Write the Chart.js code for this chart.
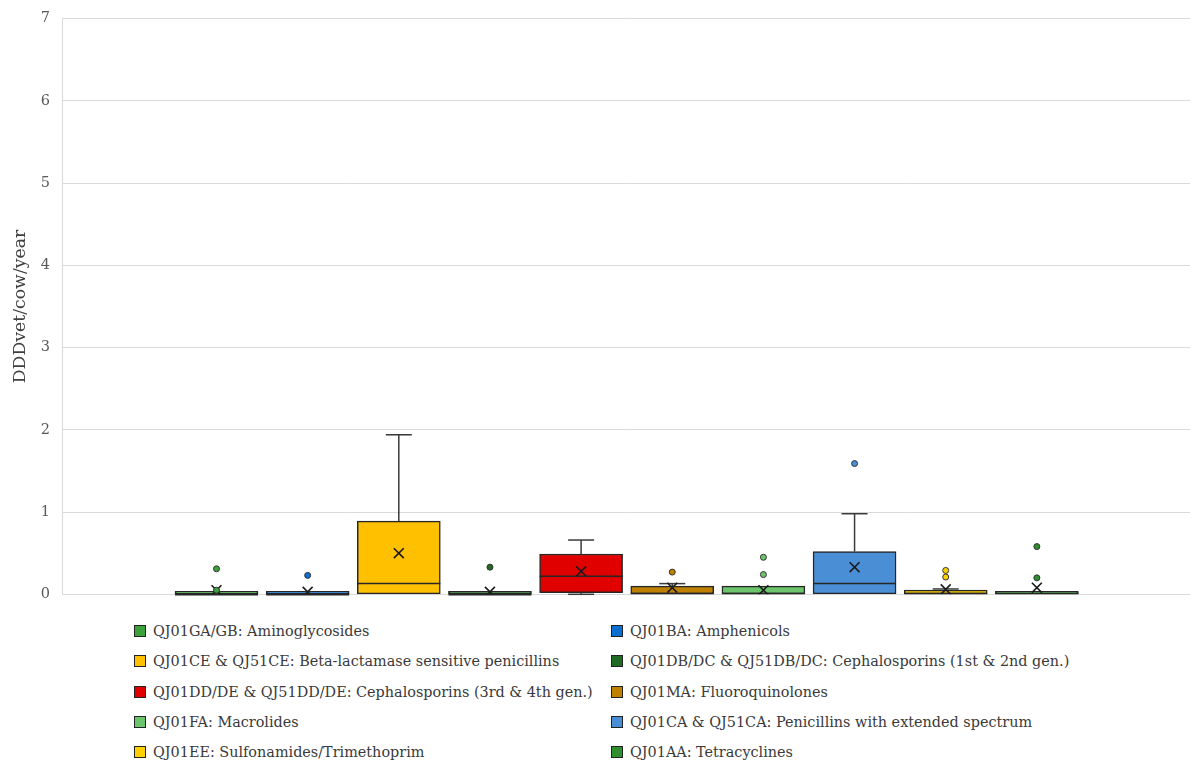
<!DOCTYPE html>
<html>
<head>
<meta charset="utf-8">
<title>DDDvet/cow/year by antimicrobial class</title>
<script src="https://cdn.jsdelivr.net/npm/chart.js@4.4.1/dist/chart.umd.min.js"></script>
<style>
  html, body { margin: 0; padding: 0; background: #ffffff; width: 1192px; height: 764px; overflow: hidden; }
  #wrap { position: absolute; left: 0; top: -2px; width: 1192px; height: 617px; }
  #legend {
    position: absolute; left: 134px; top: 621px;
    display: grid; grid-template-columns: 477px auto; grid-auto-rows: 30.3px;
    font-family: "DejaVu Serif", serif; font-size: 14.4px; color: #3a3a3a;
  }
  #legend .item { display: flex; align-items: center; height: 20px; white-space: nowrap; }
  #legend .sw { width: 10px; height: 10px; border: 1.5px solid #222; margin-right: 7px; flex: none; }
</style>
</head>
<body>
<div id="wrap"><canvas id="chart"></canvas></div>
<div id="legend"></div>
<script>
// Antimicrobial classes, one box each, left to right
const categories = [
  'QJ01GA/GB: Aminoglycosides',
  'QJ01BA: Amphenicols',
  'QJ01CE & QJ51CE: Beta-lactamase sensitive penicillins',
  'QJ01DB/DC & QJ51DB/DC: Cephalosporins (1st & 2nd gen.)',
  'QJ01DD/DE & QJ51DD/DE: Cephalosporins (3rd & 4th gen.)',
  'QJ01MA: Fluoroquinolones',
  'QJ01FA: Macrolides',
  'QJ01CA & QJ51CA: Penicillins with extended spectrum',
  'QJ01EE: Sulfonamides/Trimethoprim',
  'QJ01AA: Tetracyclines'
];
const colors = ['#3ca33c', '#0b6fd1', '#ffc000', '#1f6b23', '#e00000',
                '#bf8000', '#6cc46c', '#4a8fd6', '#ffd000', '#2e8f2e'];

// Box statistics (DDDvet/cow/year)
const whiskerLow  = [0, 0, 0,    0, 0,    0,    0,    0,    0,     0];
const q1          = [0, 0, 0,    0, 0.02, 0,    0,    0,    0,     0];
const median      = [0, 0, 0.13, 0, 0.22, 0.01, 0.01, 0.13, 0.01,  0.01];
const q3          = [0, 0, 0.89, 0, 0.49, 0.10, 0.10, 0.52, 0.05,  0.01];
const whiskerHigh = [0, 0, 1.94, 0, 0.66, 0.13, 0.10, 0.98, 0.065, 0.01];
const means       = [0.05, 0.03, 0.50, 0.03, 0.28, 0.08, 0.05, 0.33, 0.06, 0.08];
const outliers = [
  [0.31, 0.05],
  [0.23],
  [],
  [0.33],
  [],
  [0.27],
  [0.45, 0.24],
  [1.59],
  [0.29, 0.21],
  [0.58, 0.20]
];
const yTicks = [0, 1, 2, 3, 4, 5, 6, 7];

const positions = categories.map((_, i) => i + 1);
const serif = '"DejaVu Serif", serif';

const boxSets = categories.map((name, i) => ({
  type: 'bar',
  label: name,
  data: [{ x: positions[i], y: [q1[i], q3[i]] }],
  backgroundColor: colors[i],
  borderColor: '#262626',
  borderWidth: 1.5,
  borderSkipped: false,
  barThickness: 83,
  minBarLength: 3,
  grouped: false,
  order: 2
}));

const outlierPoints = [];
const outlierColors = [];
outliers.forEach((vals, i) => vals.forEach(v => {
  outlierPoints.push({ x: positions[i], y: v });
  outlierColors.push(colors[i]);
}));

const outlierSet = {
  type: 'scatter',
  label: 'outliers',
  data: outlierPoints,
  backgroundColor: outlierColors,
  borderColor: '#333333',
  borderWidth: 1,
  pointRadius: 3,
  order: 0
};

const meanSet = {
  type: 'scatter',
  label: 'mean',
  data: positions.map((x, i) => ({ x, y: means[i] })),
  pointStyle: 'crossRot',
  pointRadius: 7,
  borderColor: '#1a1a1a',
  borderWidth: 1.6,
  backgroundColor: 'transparent',
  order: 1
};

// Whiskers, caps and median line for each box
const boxWhiskers = {
  id: 'boxWhiskers',
  afterDatasetDraw(chart, args) {
    const ds = chart.data.datasets[args.index];
    if (ds.type !== 'bar') return;
    const i = args.index;
    const bar = args.meta.data[0];
    const y = chart.scales.y;
    const ctx = chart.ctx;
    const cx = bar.x, half = bar.width / 2, cap = 13;
    const seg = (x1, y1, x2, y2) => { ctx.beginPath(); ctx.moveTo(x1, y1); ctx.lineTo(x2, y2); ctx.stroke(); };
    ctx.save();
    ctx.strokeStyle = '#3a3a3a';
    ctx.lineWidth = 1.5;
    const yHi = y.getPixelForValue(whiskerHigh[i]);
    const yQ3 = y.getPixelForValue(q3[i]);
    const yLo = y.getPixelForValue(whiskerLow[i]);
    const yQ1 = y.getPixelForValue(q1[i]);
    if (whiskerHigh[i] > q3[i]) { seg(cx, yQ3, cx, yHi); seg(cx - cap, yHi, cx + cap, yHi); }
    if (whiskerLow[i] < q1[i]) { seg(cx, yQ1, cx, yLo); seg(cx - cap, yLo, cx + cap, yLo); }
    ctx.strokeStyle = '#262626';
    const yMed = y.getPixelForValue(median[i]);
    if (q3[i] > q1[i]) seg(cx - half, yMed, cx + half, yMed);
    // a collapsed box reads as a single dark rule
    if (q3[i] === q1[i]) { ctx.lineWidth = 2.5; seg(cx - half, yQ1, cx + half, yQ1); }
    ctx.restore();
  }
};

new Chart(document.getElementById('chart'), {
  data: { datasets: [...boxSets, meanSet, outlierSet] },
  options: {
    responsive: true,
    maintainAspectRatio: false,
    animation: false,
    layout: { autoPadding: false, padding: { left: 0, right: 2, top: 18, bottom: 15 } },
    plugins: { legend: { display: false }, tooltip: { enabled: false } },
    scales: {
      x: { type: 'linear', min: -0.695, max: 11.68, offset: false, display: false },
      y: {
        min: 0, max: 7,
        afterBuildTicks: s => { s.ticks = yTicks.map(v => ({ value: v })); },
        afterFit: s => { s.width = 62; },
        ticks: { color: '#595959', padding: 12, font: { family: serif, size: 14.5 } },
        grid: { color: '#d9d9d9', lineWidth: 1, drawTicks: false },
        border: { color: '#d9d9d9', width: 1 },
        title: { display: true, text: 'DDDvet/cow/year', color: '#404040', padding: { top: 10, bottom: 0 }, font: { family: serif, size: 17.3 } }
      }
    }
  },
  plugins: [boxWhiskers]
});

// Two-column legend built from the box datasets
const legend = document.getElementById('legend');
boxSets.forEach(ds => {
  const item = document.createElement('div');
  item.className = 'item';
  const sw = document.createElement('span');
  sw.className = 'sw';
  sw.style.background = ds.backgroundColor;
  const txt = document.createElement('span');
  txt.textContent = ds.label;
  item.appendChild(sw);
  item.appendChild(txt);
  legend.appendChild(item);
});
</script>
</body>
</html>
